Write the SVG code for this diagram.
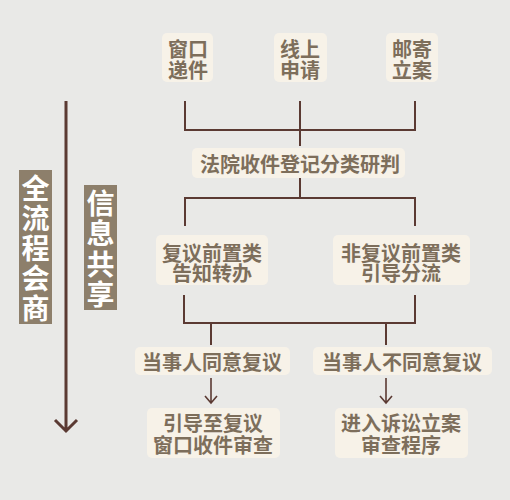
<svg xmlns="http://www.w3.org/2000/svg" width="510" height="500" viewBox="0 0 510 500">
<defs>
<style>
.bx{fill:#f7f2e8}
.t{font-family:"Noto Sans CJK SC","Noto Sans",sans-serif;font-size:20px;font-weight:700;fill:#7d6e5b;text-anchor:middle;dominant-baseline:central}
.v{font-family:"Noto Sans CJK SC","Noto Sans",sans-serif;font-size:28px;font-weight:700;fill:#ffffff;text-anchor:middle;dominant-baseline:central}
.tag{fill:#8d7f6b}
.c{stroke:#5b3a33;stroke-width:2;fill:none}
.a{stroke:#5b3a33;stroke-width:1.6;fill:none}
</style>
</defs>
<rect width="510" height="500" fill="#e9e9e7"/>
<g id="connectors">
<path class="c" d="M185 101V130H415V101M300 101V146"/>
<path class="c" d="M300 178V198M185 226V198H415V226"/>
<path class="c" d="M184 295V323H415V295M211 323V345M386 323V345"/>
<path class="a" d="M211 378V402M205 396L211 403L217 396"/>
<path class="a" d="M386 378V402M380 396L386 403L392 396"/>
<path stroke="#5b3a33" stroke-width="3" fill="none" d="M66 101V431M55 420L66 431L77 420"/>
</g>
<g id="n1"><rect class="bx" x="162" y="33" width="51" height="49" rx="5"/><text class="t" x="188" y="48">窗口</text><text class="t" x="188" y="69">递件</text></g>
<g id="n2"><rect class="bx" x="274" y="33" width="53" height="49" rx="5"/><text class="t" x="300" y="48">线上</text><text class="t" x="300" y="69">申请</text></g>
<g id="n3"><rect class="bx" x="386" y="33" width="52" height="49" rx="5"/><text class="t" x="412" y="48">邮寄</text><text class="t" x="412" y="69">立案</text></g>
<g id="n4"><rect class="bx" x="192" y="148" width="213" height="30" rx="5"/><text class="t" x="300" y="163">法院收件登记分类研判</text></g>
<g id="n5"><rect class="bx" x="156" y="235" width="112" height="50" rx="5"/><text class="t" x="212" y="252">复议前置类</text><text class="t" x="212" y="272">告知转办</text></g>
<g id="n6"><rect class="bx" x="333" y="235" width="137" height="50" rx="5"/><text class="t" x="401" y="252">非复议前置类</text><text class="t" x="401" y="272">引导分流</text></g>
<g id="n7"><rect class="bx" x="135" y="347" width="155" height="28" rx="5"/><text class="t" x="212" y="361">当事人同意复议</text></g>
<g id="n8"><rect class="bx" x="313" y="347" width="179" height="28" rx="5"/><text class="t" x="402" y="361">当事人不同意复议</text></g>
<g id="n9"><rect class="bx" x="147" y="408" width="133" height="50" rx="5"/><text class="t" x="213" y="422">引导至复议</text><text class="t" x="213" y="444">窗口收件审查</text></g>
<g id="n10"><rect class="bx" x="335" y="408" width="133" height="50" rx="5"/><text class="t" x="401" y="422">进入诉讼立案</text><text class="t" x="401" y="444">审查程序</text></g>
<g id="tag1"><rect class="tag" x="19" y="170" width="33" height="154"/><text class="v" x="35.5" y="187">全</text><text class="v" x="35.5" y="217">流</text><text class="v" x="35.5" y="247">程</text><text class="v" x="35.5" y="277">会</text><text class="v" x="35.5" y="307">商</text></g>
<g id="tag2"><rect class="tag" x="84" y="185" width="33" height="125"/><text class="v" x="100.5" y="202">信</text><text class="v" x="100.5" y="232">息</text><text class="v" x="100.5" y="263">共</text><text class="v" x="100.5" y="293">享</text></g>
</svg>
